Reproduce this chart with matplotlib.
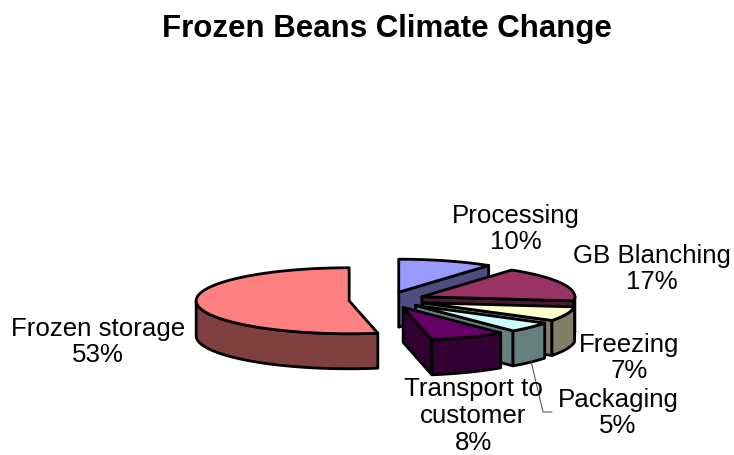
import numpy as np
import matplotlib
matplotlib.use("Agg")
import matplotlib.pyplot as plt
from matplotlib.patches import Polygon

title = "Frozen Beans Climate Change"
categories = ["Processing", "GB Blanching", "Freezing", "Packaging", "Transport to\ncustomer", "Frozen storage"]
values = [10, 17, 7, 5, 8, 53]
top_colors = ["#9999FF", "#993366", "#FFFFCC", "#CCFFFF", "#660066", "#FF8080"]
side_colors = ["#4D4D80", "#4D1A33", "#808066", "#668080", "#330033", "#804040"]

W, H = 734, 456
CX, CY = 387, 301
RX, RY = 153, 33
DEPTH = 35
EXPLODE = 38
LW = 2.0

plt.rcParams["font.family"] = ["Liberation Sans", "DejaVu Sans"]
fig = plt.figure(figsize=(W / 100, H / 100), dpi=100)
ax = fig.add_axes([0, 0, 1, 1])
ax.set_xlim(0, W)
ax.set_ylim(H, 0)
ax.axis("off")


def pt(cx, cy, deg):
    a = np.radians(deg)
    return cx + RX * np.sin(a), cy - RY * np.cos(a)


def poly(xy, color, z):
    ax.add_patch(Polygon(xy, closed=True, facecolor=color, edgecolor="black",
                         linewidth=LW, joinstyle="round", zorder=z))


fractions = np.array(values) / sum(values)
edges = np.concatenate([[0], np.cumsum(fractions)]) * 360
z = 1
for i in range(len(values)):
    a0, a1 = edges[i], edges[i + 1]
    mid = np.radians((a0 + a1) / 2)
    cx = CX + EXPLODE * np.sin(mid)
    cy = CY - EXPLODE * RY / RX * np.cos(mid)
    # radial side faces that look towards the viewer
    for ang, visible in ((a0, np.sin(np.radians(a0)) < -1e-6), (a1, np.sin(np.radians(a1)) > 1e-6)):
        if visible:
            x, y = pt(cx, cy, ang)
            poly([(cx, cy), (x, y), (x, y + DEPTH), (cx, cy + DEPTH)], side_colors[i], z)
            z += 1
    # outer rim
    lo, hi = max(a0, 90), min(a1, 270)
    if hi > lo:
        t = np.linspace(lo, hi, 80)
        xs, ys = pt(cx, cy, t)
        poly(np.r_[np.c_[xs, ys], np.c_[xs, ys + DEPTH][::-1]], side_colors[i], z)
        z += 1
    # top surface
    t = np.linspace(a0, a1, 120)
    xs, ys = pt(cx, cy, t)
    poly(np.r_[[(cx, cy)], np.c_[xs, ys]], top_colors[i], z)
    z += 1

ax.text(387, 29, title, ha="center", va="center", fontsize=22.5, fontweight="bold", color="black")

label_pos = [(516, 229), (652, 269), (629, 358), (618, 413), (473, 416), (98, 342)]
for name, v, (x, y) in zip(categories, values, label_pos):
    ax.text(x, y, f"{name}\n{v}%", ha="center", va="center", fontsize=18.6,
            linespacing=1.14, color="black", zorder=50)

# leader line for Packaging
ax.plot([531, 543, 552], [362, 413, 413], color="#444444", lw=0.7, zorder=40)

fig.savefig("out.png", dpi=100, facecolor="white")
